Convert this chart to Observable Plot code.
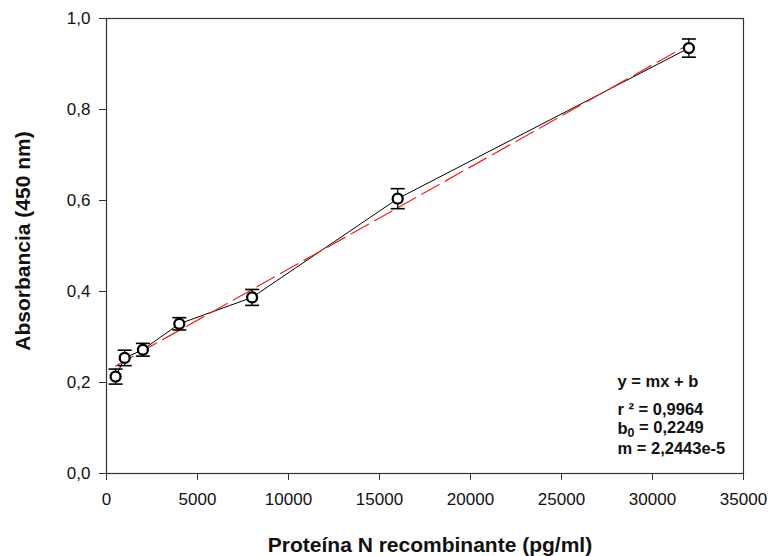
<!DOCTYPE html>
<html><head><meta charset="utf-8">
<script src="https://cdn.jsdelivr.net/npm/d3@7"></script>
<script src="https://cdn.jsdelivr.net/npm/@observablehq/plot@0.6"></script>
<style>html,body{margin:0;padding:0;background:#fff;}</style>
</head><body><div id="chart"></div>
<script>
// Data
const concentrations = [500, 1000, 2000, 4000, 8000, 16000, 32000];
const absorbance = [0.213, 0.254, 0.272, 0.329, 0.387, 0.604, 0.935];
const errors = [0.0165, 0.017, 0.014, 0.0135, 0.0175, 0.022, 0.02];
const xTicks = [0, 5000, 10000, 15000, 20000, 25000, 30000, 35000];
const yTicks = [0, 0.2, 0.4, 0.6, 0.8, 1.0];
const fitSlope = 2.2443e-5;
const fitIntercept = 0.2249;
const annotationLines = ["y = mx + b", "r \u00b2 = 0,9964", "b0 = 0,2249", "m = 2,2443e-5"];
const xLabel = "Proteína N recombinante (pg/ml)";
const yLabel = "Absorbancia (450 nm)";

const points = concentrations.map((x, i) => ({x, y: absorbance[i], lo: absorbance[i] - errors[i], hi: absorbance[i] + errors[i]}));
const xFit = [d3.min(concentrations), d3.max(concentrations)];
const fitLine = xFit.map(x => ({x, y: fitSlope * x + fitIntercept}));

const capSymbol = {draw(ctx) { ctx.moveTo(-7, 0); ctx.lineTo(7, 0); }};
const annDy = [-86.5, -58.7, -39.7, -19.7];

const font = "Arial, 'Liberation Sans', sans-serif";
const chart = Plot.plot({
  width: 768, height: 556,
  marginLeft: 106, marginRight: 25, marginTop: 18, marginBottom: 83,
  style: {fontFamily: font, fontSize: "17px", color: "#111", background: "white"},
  x: {domain: [0, 35000]},
  y: {domain: [0, 1]},
  marks: [
    Plot.frame({stroke: "#333", strokeWidth: 1.2}),
    Plot.axisX({ticks: xTicks, tickSize: 7, tickPadding: 12, tickFormat: d3.format("d"), label: null, stroke: "#333", fontSize: 17}),
    Plot.axisY({ticks: yTicks, tickSize: 7, tickPadding: 9, tickFormat: d => d.toFixed(1).replace(".", ","), label: null, stroke: "#333", fontSize: 17}),
    Plot.line(points, {x: "x", y: "y", stroke: "black", strokeWidth: 1}),
    Plot.line(fitLine, {x: "x", y: "y", stroke: "#f02020", strokeWidth: 1.2, strokeDasharray: "20,7"}),
    Plot.ruleX(points, {x: "x", y1: "lo", y2: "hi", stroke: "black", strokeWidth: 1.3}),
    Plot.dot(points, {x: "x", y: "hi", symbol: capSymbol, stroke: "black", fill: "none", strokeWidth: 1.6}),
    Plot.dot(points, {x: "x", y: "lo", symbol: capSymbol, stroke: "black", fill: "none", strokeWidth: 1.6}),
    Plot.dot(points, {x: "x", y: "y", r: 5, fill: "white", stroke: "black", strokeWidth: 2.3}),
    ...annotationLines.map((t, i) => Plot.text([t], {text: d => d, frameAnchor: "bottom-right", textAnchor: "start", lineAnchor: "bottom", dx: -126, dy: annDy[i], fontWeight: "bold", fontSize: 16.5, fill: "#111"})),
    Plot.text([xLabel], {text: d => d, frameAnchor: "bottom", textAnchor: "middle", lineAnchor: "bottom", dx: 5, dy: 78, fontWeight: "bold", fontSize: 21, fill: "#111"}),
    Plot.text([yLabel], {text: d => d, frameAnchor: "left", textAnchor: "middle", lineAnchor: "bottom", rotate: -90, dx: -77, dy: -5, fontWeight: "bold", fontSize: 21, fill: "#111"})
  ]
});
d3.select(chart).selectAll("text").each(function() {
  if (this.textContent === "b0 = 0,2249") {
    const t = d3.select(this);
    t.text("b");
    t.append("tspan").attr("dy", "0.25em").attr("font-size", "0.75em").text("0");
    t.append("tspan").attr("dy", "-0.25em").text(" = 0,2249");
  }
});
document.getElementById("chart").appendChild(chart);
</script></body></html>
